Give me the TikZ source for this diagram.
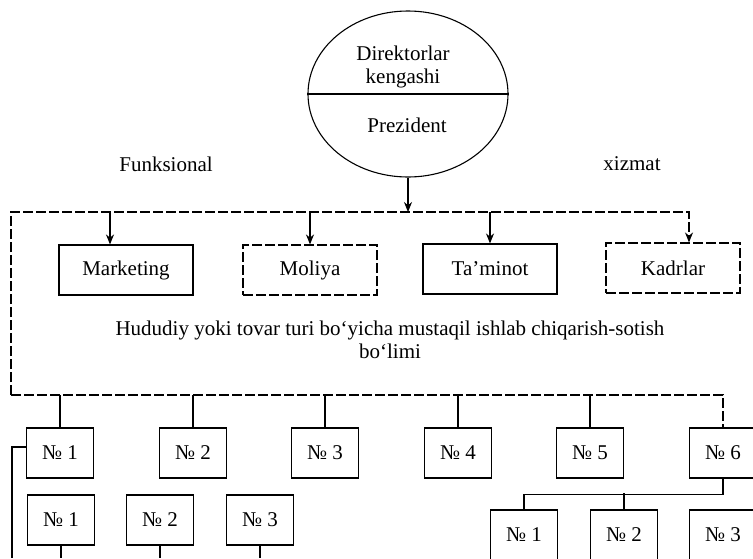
\documentclass[tikz,border=0pt]{standalone}
\usepackage{fontspec}
\setmainfont{Liberation Serif}
\usetikzlibrary{shapes.geometric,arrows.meta,positioning}

\begin{document}
\begin{tikzpicture}[x=1pt, y=-1pt, >={Stealth[length=10pt,width=8pt]}, line width=1.1pt, font=\fontsize{21}{23}\selectfont]
    % Styles
    \tikzstyle{otdel} = [rectangle, draw, minimum width=134pt, minimum height=50pt]
    \tikzstyle{raqam} = [rectangle, draw, minimum width=67pt, minimum height=50pt]
    \tikzstyle{uzuq} = [dash pattern=on 10pt off 3pt]
    \tikzstyle{line} = [draw, ->]

    \clip (0,0) rectangle (753,558);

    % Boshqaruv
    \node [ellipse, draw, minimum width=200pt, minimum height=166pt] (kengash) at (408,94) {};
    \draw (kengash.west) -- (kengash.east);
    \node [align=center] (direktor) at (403,67) {Direktorlar\\kengashi};
    \node (prezident) at (407,125) {Prezident};
    \node (funk) at (166,164) {Funksional};
    \node (xizmat) at (632,164) {xizmat};

    % Funksional bo'limlar
    \node [otdel] (marketing) at (126,270) {Marketing};
    \node [otdel, uzuq] (moliya) at (310,270) {Moliya};
    \node [otdel] (taminot) at (490,269) {Ta’minot};
    \node [otdel, uzuq] (kadrlar) at (673,268) {Kadrlar};
    \node [align=center] (hududiy) at (390,340) {Hududiy yoki tovar turi bo‘yicha mustaqil ishlab chiqarish-sotish\\bo‘limi};

    % Ishlab chiqarish bo'limlari
    \node [raqam] (no1) at (60,453) {№ 1};
    \node [raqam] (no2) at (193,453) {№ 2};
    \node [raqam] (no3) at (325,453) {№ 3};
    \node [raqam] (no4) at (458,453) {№ 4};
    \node [raqam] (no5) at (590,453) {№ 5};
    \node [raqam] (no6) at (723,453) {№ 6};

    \node [raqam] (a1) at (61,520) {№ 1};
    \node [raqam] (a2) at (160,520) {№ 2};
    \node [raqam] (a3) at (260,520) {№ 3};

    \node [raqam] (b1) at (524,535) {№ 1};
    \node [raqam] (b2) at (624,535) {№ 2};
    \node [raqam] (b3) at (723,535) {№ 3};

    % Ramka
    \coordinate (tepa) at (408,212);
    \coordinate (chap) at (11,212);
    \coordinate (past) at (11,395);
    \coordinate (pastki) at (12,558);
    \coordinate (mk) at ([xshift=-16pt]marketing.north);
    \coordinate (kd) at ([xshift=16pt]kadrlar.north);

    % Edges
    \path [line] (kengash) -- (tepa);
    \draw [uzuq, ->] (past) -- (chap) -| (kd);
    \path [line] (mk |- tepa) -- (mk);
    \path [line] (moliya.north |- tepa) -- (moliya.north);
    \path [line] (taminot.north |- tepa) -- (taminot.north);
    \draw [uzuq] (past) -| (no6.north);
    \foreach \n in {no1,no2,no3,no4,no5}
        \draw (\n.north |- past) -- (\n.north);

    \draw ([yshift=6pt]no1.west) -| (pastki);
    \foreach \n in {a1,a2,a3}
        \draw (\n.south) -- (\n.south |- pastki);

    \draw (no6.south) -- ++(0,16) -| (b1.north);
    \draw (b2.north) -- ++(0,-16);

\end{tikzpicture}
\end{document}
